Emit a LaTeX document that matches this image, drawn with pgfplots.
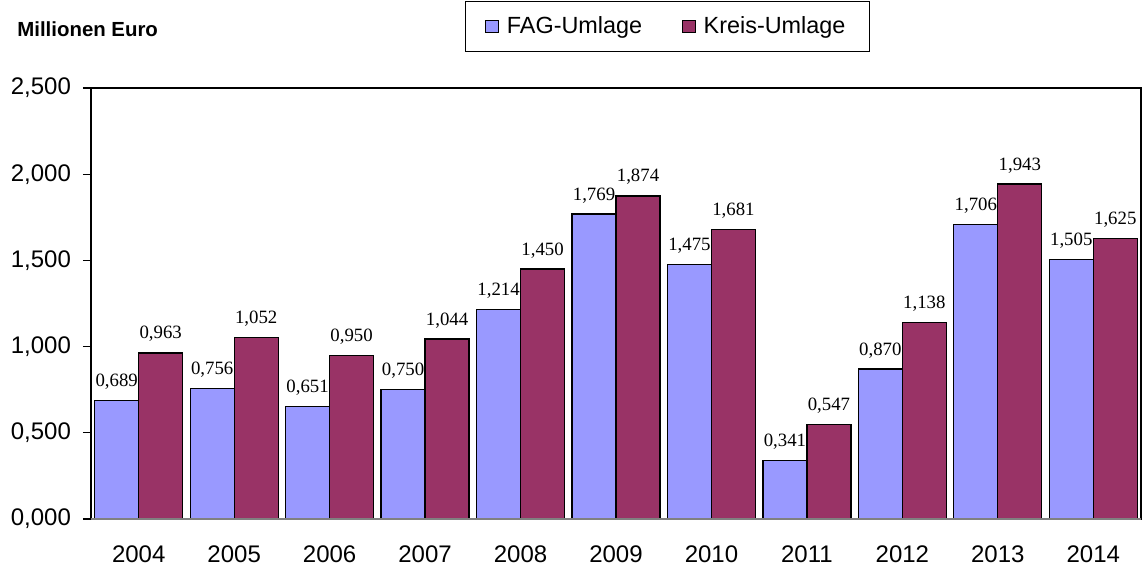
\documentclass[border=0pt]{standalone}
\usepackage{fontspec}
\setmainfont{Liberation Sans}
\newfontfamily\seriffont{Liberation Serif}
\usepackage{pgfplots}
\pgfplotsset{compat=1.18}
\definecolor{fagblue}{HTML}{9999FF}
\definecolor{kreispurple}{HTML}{993366}
\begin{document}
\begin{tikzpicture}
\begin{axis}[
  scale only axis, width=525pt, height=215.5pt,
  ybar=0pt, bar width=22pt,
  xmin=-0.5, xmax=10.5, ymin=0, ymax=2.5,
  xtick={0,1,2,3,4,5,6,7,8,9,10},
  xticklabels={2004,2005,2006,2007,2008,2009,2010,2011,2012,2013,2014},
  ytick={0,0.5,1,1.5,2,2.5},
  yticklabel={\pgfmathprintnumber[fixed,fixed zerofill,precision=3,use comma,assume math mode=true]{\tick}},
  tick label style={font=\fontsize{12}{14}\selectfont},
  xtick style={draw=none},
  ytick style={black, line width=0.6pt},
  tick align=outside, major tick length=4pt,
  ytick pos=left,
  xticklabel style={yshift=-6pt},
  yticklabel style={xshift=-2.5pt},
  axis line style={black, line width=0.6pt},
  nodes near coords={\pgfmathprintnumber[fixed,fixed zerofill,precision=3,use comma,assume math mode=true]{\pgfplotspointmeta}},
  every node near coord/.append style={font=\seriffont\fontsize{9.4}{10}\selectfont, anchor=base, yshift=7pt, black},
  legend columns=2,
  legend style={at={(0.549,1)}, anchor=center, yshift=30.75pt, draw=black, line width=0.6pt,
    font=\fontsize{11.7}{14}\selectfont, inner xsep=10pt, inner ysep=5.5pt,
    /tikz/every even column/.append style={column sep=18pt}},
  legend image code/.code={\draw[#1,draw=black,line width=0.5pt] (0pt,-3.2pt) rectangle (6.4pt,3.2pt); \path[draw=none,fill=none] (0pt,0pt) -- (8.5pt,0pt);},
  clip=false,
]
\addplot[fill=fagblue, draw=black, line width=0.6pt] coordinates {
(0,0.689) (1,0.756) (2,0.651) (3,0.750) (4,1.214) (5,1.769) (6,1.475) (7,0.341) (8,0.870) (9,1.706) (10,1.505)};
\addplot[fill=kreispurple, draw=black, line width=0.6pt] coordinates {
(0,0.963) (1,1.052) (2,0.950) (3,1.044) (4,1.450) (5,1.874) (6,1.681) (7,0.547) (8,1.138) (9,1.943) (10,1.625)};
\legend{FAG-Umlage, Kreis-Umlage}
\draw[gray, line width=0.7pt] (rel axis cs:0,0) -- (rel axis cs:1,0);
\coordinate (SW) at (rel axis cs:0,0);
\coordinate (NW) at (rel axis cs:0,1);
\end{axis}
\node[anchor=base west, inner sep=0pt, font=\bfseries\fontsize{10.2}{12}\selectfont] at ([xshift=-37pt,yshift=26pt]NW) {Millionen Euro};
\pgfresetboundingbox
\path ([xshift=-45.5pt,yshift=-25pt]SW) rectangle ++(572.5pt,284.5pt);
\end{tikzpicture}
\end{document}
